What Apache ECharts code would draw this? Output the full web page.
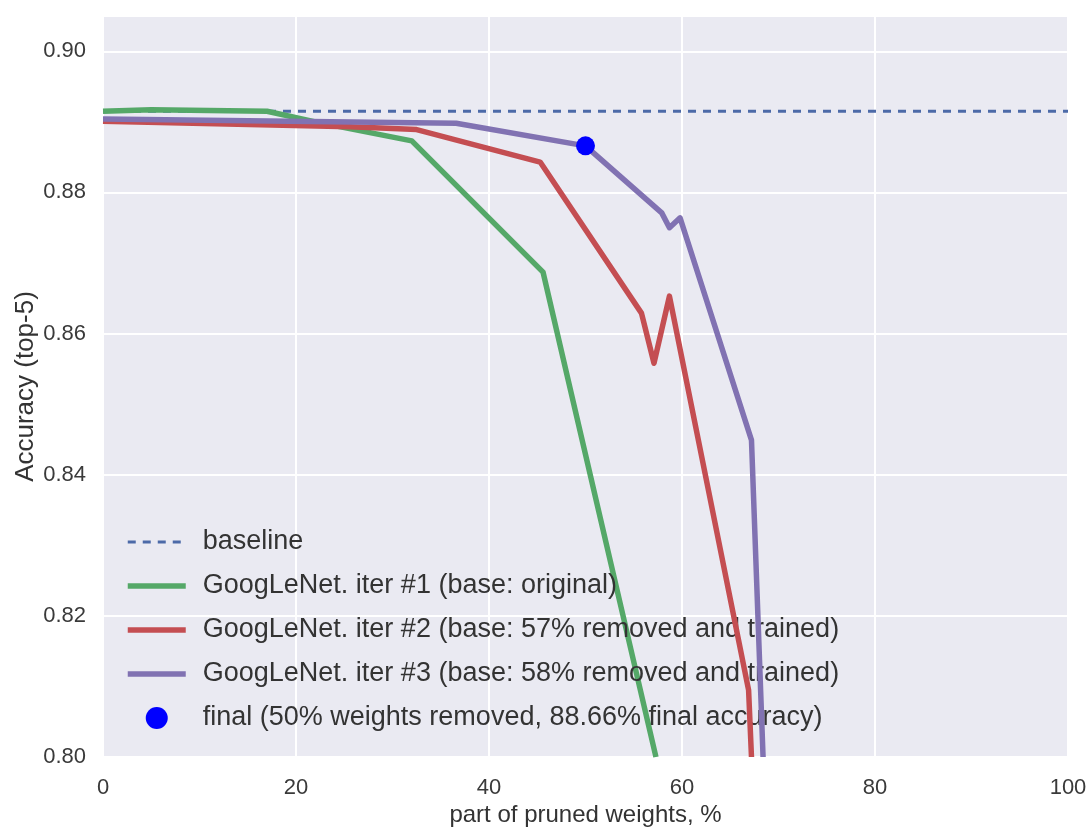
<!DOCTYPE html>
<html>
<head>
<meta charset="utf-8">
<script src="https://cdn.jsdelivr.net/npm/echarts@6/dist/echarts.min.js"></script>
<style>
html,body{margin:0;padding:0;background:#fff;}
#chart{width:1089px;height:830px;}
</style>
</head>
<body>
<div id="chart"></div>
<script>
// ---- data ----
const xTicks = [0, 20, 40, 60, 80, 100];
const yTicks = [0.80, 0.82, 0.84, 0.86, 0.88, 0.90];
const baselineValue = 0.8915;
const baselineX = [0, 100];
const iter1X = [0, 5, 17, 22, 32, 45.6, 57.3];
const iter1Y = [0.8915, 0.8917, 0.8915, 0.8900, 0.8873, 0.8687, 0.8000];
const iter2X = [0, 25.6, 32.5, 45.3, 55.8, 57.1, 58.7, 66.9, 67.2];
const iter2Y = [0.8901, 0.8893, 0.8889, 0.8843, 0.8629, 0.8558, 0.8653, 0.8095, 0.8000];
const iter3X = [0, 36.6, 50, 57.9, 58.7, 59.8, 67.2, 68.4];
const iter3Y = [0.8904, 0.8898, 0.8866, 0.8771, 0.8750, 0.8764, 0.8449, 0.8000];
const finalPoint = [50, 0.8866];
const names = [
  'baseline',
  'GoogLeNet. iter #1 (base: original)',
  'GoogLeNet. iter #2 (base: 57% removed and trained)',
  'GoogLeNet. iter #3 (base: 58% removed and trained)',
  'final (50% weights removed, 88.66% final accuracy)'
];

const zip = (xs, ys) => xs.map((x, i) => [x, ys[i]]);
const font = '"Liberation Sans", Arial, sans-serif';

const lineLegend = (name) => ({name: name, itemStyle: {opacity: 0}, lineStyle: {width: 'inherit'}});

const chart = echarts.init(document.getElementById('chart'), null, {renderer: 'canvas'});
chart.setOption({
  animation: false,
  backgroundColor: '#ffffff',
  grid: {
    left: 103, right: 21, top: 16, bottom: 73,
    outerBoundsMode: 'none', containLabel: false,
    show: true, backgroundColor: '#EAEAF2', borderWidth: 0
  },
  xAxis: {
    type: 'value', min: xTicks[0], max: xTicks[xTicks.length - 1], interval: 20,
    name: 'part of pruned weights, %', nameLocation: 'middle', nameGap: 46,
    nameMoveOverlap: false,
    nameTextStyle: {fontFamily: font, fontSize: 24, color: '#333'},
    axisLine: {show: false}, axisTick: {show: false},
    axisLabel: {fontFamily: font, fontSize: 22, color: '#3a3a3a', margin: 20},
    splitLine: {show: true, lineStyle: {color: '#ffffff', width: 2}}
  },
  yAxis: {
    type: 'value', min: yTicks[0], max: 0.905, interval: 0.02,
    name: 'Accuracy (top-5)', nameLocation: 'middle', nameGap: 64,
    nameMoveOverlap: false,
    nameTextStyle: {fontFamily: font, fontSize: 26, color: '#333'},
    axisLine: {show: false}, axisTick: {show: false},
    axisLabel: {
      fontFamily: font, fontSize: 22, color: '#3a3a3a', margin: 17,
      showMaxLabel: false,
      formatter: v => {
        const t = yTicks.find(k => Math.abs(k - v) < 1e-6);
        return t === undefined ? '' : t.toFixed(2);
      }
    },
    splitLine: {show: true, lineStyle: {color: '#ffffff', width: 2}}
  },
  legend: {
    orient: 'vertical', left: 120, top: 522,
    itemWidth: 58, itemHeight: 22, itemGap: 14,
    textStyle: {fontFamily: font, fontSize: 27, color: '#333', lineHeight: 30, padding: [0, 0, 0, 12]},
    data: [lineLegend(names[0]), lineLegend(names[1]), lineLegend(names[2]), lineLegend(names[3]),
           {name: names[4], itemStyle: {opacity: 1}}]
  },
  series: [
    {
      name: names[0], type: 'line', data: zip(baselineX, [baselineValue, baselineValue]),
      symbol: 'none', z: 2,
      lineStyle: {color: '#4c6aa8', width: 2.8, type: [8, 7]},
      itemStyle: {color: '#4c6aa8'}
    },
    {
      name: names[1], type: 'line', data: zip(iter1X, iter1Y), symbol: 'none', z: 3,
      lineStyle: {color: '#55a868', width: 5.5, join: 'round'}, itemStyle: {color: '#55a868'}
    },
    {
      name: names[2], type: 'line', data: zip(iter2X, iter2Y), symbol: 'none', z: 4,
      lineStyle: {color: '#c44e52', width: 5.5, join: 'round'}, itemStyle: {color: '#c44e52'}
    },
    {
      name: names[3], type: 'line', data: zip(iter3X, iter3Y), symbol: 'none', z: 5,
      lineStyle: {color: '#8172b2', width: 5.5, join: 'round'}, itemStyle: {color: '#8172b2'}
    },
    {
      name: names[4], type: 'scatter', data: [finalPoint], symbol: 'circle', symbolSize: 19, z: 6,
      itemStyle: {color: '#0000ff', opacity: 1}
    }
  ]
});
</script>
</body>
</html>
